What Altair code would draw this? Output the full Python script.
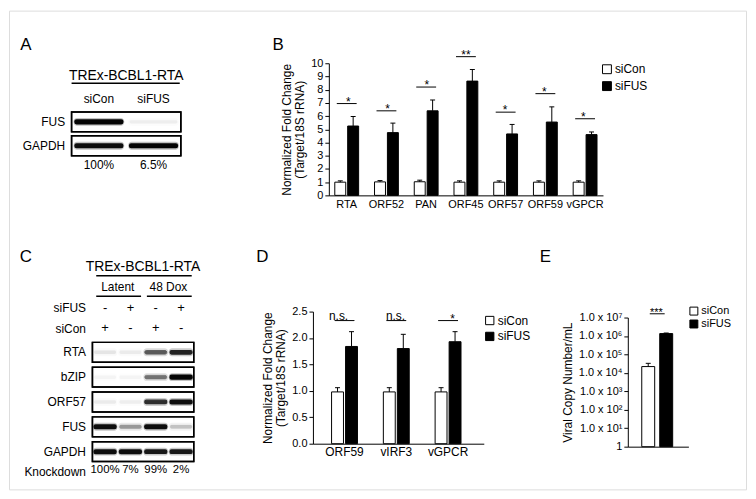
import altair as alt
import pandas as pd

FONT = "Liberation Sans"
W, H = 742, 482
O = 9  # page margin 8 + padding 1


def px(v):
    return v - O


treatments = ["siCon", "siFUS"]
fill_colors = ["white", "black"]

# ---------------- Panel B data ----------------
b_genes = ["RTA", "ORF52", "PAN", "ORF45", "ORF57", "ORF59", "vGPCR"]
b_sicon = [1.0, 1.02, 1.03, 1.0, 1.0, 1.0, 1.0]
b_sicon_err = [0.1, 0.1, 0.12, 0.1, 0.1, 0.1, 0.1]
b_sifus = [5.25, 4.75, 6.4, 8.65, 4.65, 5.55, 4.6]
b_sifus_err = [0.72, 0.72, 0.82, 0.88, 0.72, 1.15, 0.2]
b_sig_y = [6.95, 6.4, 8.2, 10.5, 6.3, 7.7, 5.8]
b_sig = ["*", "*", "*", "**", "*", "*", "*"]
b_ticks = [0, 1, 2, 3, 4, 5, 6, 7, 8, 9, 10]

# ---------------- Panel D data ----------------
d_genes = ["ORF59", "vIRF3", "vGPCR"]
d_sicon = [0.98, 0.98, 0.98]
d_sicon_err = [0.08, 0.08, 0.08]
d_sifus = [1.84, 1.80, 1.93]
d_sifus_err = [0.28, 0.27, 0.19]
d_sig_y = [2.33, 2.33, 2.33]
d_sig = ["n.s.", "n.s.", "*"]
d_ticks = [0, 0.5, 1, 1.5, 2, 2.5]

# ---------------- Panel E data ----------------
e_group = ["E"]
e_copies = [2.2e4, 1.35e6]
e_copies_err = [1.1e4, 1.0e5]
e_sig_y = [1.6e7]
e_sig = ["***"]
e_ticks = [1, 10, 100, 1e3, 1e4, 1e5, 1e6, 1e7]

# ---------------- Panel A blot ----------------
a_title = "TREx-BCBL1-RTA"
a_lanes = ["siCon", "siFUS"]
a_rows = ["FUS", "GAPDH"]
a_intensity = {"FUS": [1.0, 0.05], "GAPDH": [0.95, 1.0]}
a_pct = ["100%", "6.5%"]

# ---------------- Panel C blot ----------------
c_title = "TREx-BCBL1-RTA"
c_groups = ["Latent", "48 Dox"]
c_group_lanes = [[1, 2], [3, 4]]
c_sifus = ["-", "+", "-", "+"]
c_sicon = ["+", "-", "+", "-"]
c_rows = ["RTA", "bZIP", "ORF57", "FUS", "GAPDH"]
c_intensity = {
    "RTA": [0.08, 0.06, 0.6, 0.85],
    "bZIP": [0.03, 0.03, 0.5, 1.0],
    "ORF57": [0.06, 0.05, 0.8, 0.95],
    "FUS": [0.95, 0.35, 0.95, 0.2],
    "GAPDH": [0.95, 0.95, 0.9, 0.9],
}
c_knock_label = "Knockdown"
c_knock = ["100%", "7%", "99%", "2%"]


# ================= helpers =================
def y_axis(offset, title, values, label_expr=None, font=11):
    kw = dict(orient="left", offset=offset, title=title, values=values, tickSize=4,
              tickColor="black", domainColor="black", labelColor="black", titleColor="black",
              labelFontSize=font, titleFontSize=12, titleFontWeight="normal", labelFont=FONT,
              titleFont=FONT, grid=False, labelPadding=2, titlePadding=4, tickWidth=1,
              domainWidth=1, labelOverlap=False, labelFlush=False, titleLineHeight=13)
    if label_expr:
        kw["labelExpr"] = label_expr
    return alt.Axis(**kw)


def x_axis(offset, labels=True, font=11):
    return alt.Axis(orient="bottom", offset=offset, title=None, ticks=False, labels=labels,
                    labelAngle=0, labelFontSize=font, labelFont=FONT, labelColor="black",
                    domainColor="black", domainWidth=1, labelPadding=3, grid=False)


def legend(lx, ly, size=80, row_pad=3, font=12):
    return alt.Legend(orient="none", legendX=lx, legendY=ly, title=None, symbolType="square",
                      symbolSize=size, symbolStrokeColor="black", symbolStrokeWidth=1,
                      labelFontSize=font, labelFont=FONT, labelColor="black", rowPadding=row_pad,
                      padding=0, labelOffset=2)


def bar_panel(df, sig_df, cat, xscale, off_pad, yscale, yaxis, xaxis, leg, cap, sig_size,
              sig_font, base):
    def xo():
        return alt.XOffset("treatment:N",
                           scale=alt.Scale(domain=treatments, paddingInner=off_pad))

    def xx(axis=None):
        return alt.X(f"{cat}:N", scale=xscale, axis=axis)

    bars = alt.Chart(df).mark_bar(stroke="black", strokeWidth=1).encode(
        x=xx(xaxis),
        xOffset=xo(),
        y=alt.Y("mean:Q", scale=yscale, axis=yaxis),
        y2=alt.datum(base),
        fill=alt.Fill("treatment:N", scale=alt.Scale(domain=treatments, range=fill_colors),
                      legend=leg),
    )
    err = alt.Chart(df).mark_rule(color="black", strokeWidth=1).encode(
        x=xx(), xOffset=xo(),
        y=alt.Y("mean:Q", scale=yscale, axis=None),
        y2="upper:Q",
    )
    caps = alt.Chart(df).mark_tick(orient="horizontal", size=cap, thickness=1, color="black",
                                   opacity=1).encode(
        x=xx(), xOffset=xo(),
        y=alt.Y("upper:Q", scale=yscale, axis=None),
    )
    sig_line = alt.Chart(sig_df).mark_tick(orient="horizontal", size=sig_size, thickness=1,
                                           color="black", opacity=1).encode(
        x=xx(),
        y=alt.Y("y:Q", scale=yscale, axis=None),
    )
    star_txt = alt.Chart(sig_df).transform_filter(
        "indexof(datum.label, '*') >= 0"
    ).mark_text(baseline="alphabetic", dy=2, fontSize=sig_font, font=FONT,
                color="black").encode(
        x=xx(),
        y=alt.Y("y:Q", scale=yscale, axis=None),
        text="label:N",
    )
    ns_txt = alt.Chart(sig_df).transform_filter(
        "indexof(datum.label, '*') < 0"
    ).mark_text(baseline="alphabetic", dy=-1, fontSize=sig_font, font=FONT,
                color="black").encode(
        x=xx(),
        y=alt.Y("y:Q", scale=yscale, axis=None),
        text="label:N",
    )
    return [bars, err, caps, sig_line, star_txt, ns_txt]


def long_df(cat, cats, con, con_err, fus, fus_err):
    df = pd.DataFrame({
        cat: list(cats) * 2,
        "treatment": ["siCon"] * len(cats) + ["siFUS"] * len(cats),
        "mean": list(con) + list(fus),
        "err": list(con_err) + list(fus_err),
    })
    df["upper"] = df["mean"] + df["err"]
    return df


# ================= Panel B =================
b_df = long_df("gene", b_genes, b_sicon, b_sicon_err, b_sifus, b_sifus_err)
b_sig_df = pd.DataFrame({"gene": b_genes, "y": b_sig_y, "label": b_sig})
b_x = alt.Scale(domain=b_genes, range=[px(331), px(607)], paddingInner=0.4, paddingOuter=0.15)
b_y = alt.Scale(domain=[0, 10], range=[px(195), px(62)], nice=False, zero=True)
panel_b = bar_panel(
    b_df, b_sig_df, "gene", b_x, 0.15, b_y,
    y_axis(-px(331), ["Normalized Fold Change", "(Target/18S rRNA)"], b_ticks),
    x_axis(px(195) - H, font=11),
    legend(px(605), px(62)), 5, 20, 12, 0,
)

# ================= Panel D =================
d_df = long_df("gene", d_genes, d_sicon, d_sicon_err, d_sifus, d_sifus_err)
d_sig_df = pd.DataFrame({"gene": d_genes, "y": d_sig_y, "label": d_sig})
d_x = alt.Scale(domain=d_genes, range=[px(315), px(487)], paddingInner=0.5, paddingOuter=0.4,
                align=0.45)
d_y = alt.Scale(domain=[0, 2.5], range=[px(445), px(312)], nice=False, zero=True)
panel_d = bar_panel(
    d_df, d_sig_df, "gene", d_x, 0.15, d_y,
    y_axis(-px(315), ["Normalized Fold Change", "(Target/18S rRNA)"], d_ticks),
    x_axis(px(445) - H, font=12),
    legend(px(487), px(315), size=70, row_pad=2), 5, 20, 12, 0,
)

# ================= Panel E =================
e_df = long_df("grp", e_group, [e_copies[0]], [e_copies_err[0]], [e_copies[1]], [e_copies_err[1]])
e_sig_df = pd.DataFrame({"grp": e_group, "y": e_sig_y, "label": e_sig})
e_x = alt.Scale(domain=e_group, range=[px(632), px(693)], paddingInner=0, paddingOuter=0.48,
                align=0.47)
e_y = alt.Scale(type="log", domain=[1, 1e7], range=[px(448), px(318)], nice=False)
e_label_expr = ("datum.value < 2 ? '1' : '1.0 x 10' + "
                "['\u2070','\u00b9','\u00b2','\u00b3','\u2074','\u2075','\u2076','\u2077']"
                "[round(log(datum.value) / LN10)]")
panel_e = bar_panel(
    e_df, e_sig_df, "grp", e_x, 0.28, e_y,
    y_axis(-px(632), "Viral Copy Number/mL", e_ticks, label_expr=e_label_expr),
    x_axis(px(448) - H, labels=False),
    legend(px(693), px(306), size=64, row_pad=0, font=11), 5, 15, 11, 1,
)


# ================= blot helpers =================
def band_layers(df, xs, ys, size):
    halo = alt.Chart(df).transform_calculate(h="datum.intensity * 0.3").mark_tick(
        orient="horizontal", size=size + 3, thickness=8, color="#333", cornerRadius=3.5).encode(
        x=alt.X("lane:Q", scale=xs, axis=None),
        y=alt.Y("row:N", scale=ys, axis=None),
        opacity=alt.Opacity("h:Q", scale=None, legend=None),
    )
    core = alt.Chart(df).transform_calculate(sw="datum.intensity * 1.6").mark_tick(
        orient="horizontal", size=size, thickness=3.5, color="#050505", stroke="#050505",
        cornerRadius=1.5).encode(
        x=alt.X("lane:Q", scale=xs, axis=None),
        y=alt.Y("row:N", scale=ys, axis=None),
        opacity=alt.Opacity("intensity:Q", scale=None, legend=None),
        strokeWidth=alt.StrokeWidth("sw:Q", scale=None, legend=None),
    )
    return [halo, core]


def row_axis(offset, shown):
    expr = "indexof(" + str(list(shown)) + ", datum.value) >= 0 ? datum.value : ''"
    return alt.Axis(orient="left", offset=offset, title=None, ticks=False, domain=False,
                    labelExpr=expr, labelFontSize=12, labelFont=FONT, labelColor="black",
                    labelPadding=7, grid=False)


def text_layer(df, xs, ys, field, size=12, dy=0):
    return alt.Chart(df).mark_text(fontSize=size, font=FONT, color="black", dy=dy).encode(
        x=alt.X("lane:Q", scale=xs, axis=None),
        y=alt.Y("row:N", scale=ys, axis=None),
        text=f"{field}:N",
    )


def underline(df, xs, ys, pos):
    return alt.Chart(df).mark_rule(color="black", strokeWidth=1.5).encode(
        x=alt.X("lo:Q", scale=xs, axis=None), x2="hi:Q",
        y=alt.Y("row:N", scale=ys, axis=None, bandPosition=pos),
    )


def box_layers(df, xs, ys, axis):
    box = alt.Chart(df).mark_rect(fill="white", stroke="black", strokeWidth=1.5).encode(
        x=alt.X("lo:Q", scale=xs, axis=None), x2="hi:Q",
        y=alt.Y("row:N", scale=ys, axis=axis),
    )
    line = alt.Chart(df).mark_rect(fill="transparent", stroke="black",
                                   strokeWidth=1.5).encode(
        x=alt.X("lo:Q", scale=xs, axis=None), x2="hi:Q",
        y=alt.Y("row:N", scale=ys, axis=None),
    )
    return box, line


# ================= Panel A =================
na = len(a_lanes)
a_xs = alt.Scale(domain=[0.5, na + 0.5], range=[px(72), px(182)], nice=False, zero=False)
a_rows_all = ["title", "lane"] + a_rows + ["pct"]
a_ys = alt.Scale(domain=a_rows_all, range=[px(63), px(179)], paddingInner=1 / 6, paddingOuter=0)
a_band_df = pd.DataFrame([{"row": r, "lane": i + 1, "intensity": v}
                          for r in a_rows for i, v in enumerate(a_intensity[r])])
a_box_df = pd.DataFrame({"row": a_rows, "lo": 0.5, "hi": na + 0.5})
a_lane_df = pd.DataFrame({"lane": list(range(1, na + 1)), "row": "lane", "t": a_lanes})
a_pct_df = pd.DataFrame({"lane": list(range(1, na + 1)), "row": "pct", "t": a_pct})
a_title_df = pd.DataFrame({"lane": [(na + 1) / 2], "row": ["title"], "t": [a_title],
                           "lo": [0.5], "hi": [na + 0.48]})
a_box, a_box_line = box_layers(a_box_df, a_xs, a_ys, row_axis(-px(72), a_rows))
panel_a = [
    a_box, *band_layers(a_band_df, a_xs, a_ys, 48), a_box_line,
    text_layer(a_lane_df, a_xs, a_ys, "t"),
    text_layer(a_pct_df, a_xs, a_ys, "t", dy=-3),
    text_layer(a_title_df, a_xs, a_ys, "t", size=14),
    underline(a_title_df, a_xs, a_ys, 0.95),
]

# ================= Panel C =================
nc = len(c_sifus)
c_xs = alt.Scale(domain=[0.5, nc + 0.5], range=[px(93), px(195)], nice=False, zero=False)
c_head_rows = ["title", "group", "siFUS", "siCon"]
c_ys_head = alt.Scale(domain=c_head_rows, range=[px(256.7), px(339.3)], paddingInner=0,
                      paddingOuter=0)
c_main_rows = c_rows + [c_knock_label]
c_ys_main = alt.Scale(domain=c_main_rows, range=[px(343), px(488)], paddingInner=0.2,
                      paddingOuter=0)

c_sign_df = pd.DataFrame(
    [{"lane": i + 1, "row": "siFUS", "t": s} for i, s in enumerate(c_sifus)]
    + [{"lane": i + 1, "row": "siCon", "t": s} for i, s in enumerate(c_sicon)])
c_title_df = pd.DataFrame({"lane": [(nc + 1) / 2], "row": ["title"], "t": [c_title],
                           "lo": [0.65], "hi": [nc + 0.42]})
c_group_df = pd.DataFrame({
    "lane": [sum(g) / len(g) for g in c_group_lanes],
    "row": "group",
    "t": c_groups,
    "lo": [g[0] - 0.35 for g in c_group_lanes],
    "hi": [g[-1] + 0.42 for g in c_group_lanes],
})
c_signs = alt.Chart(c_sign_df).mark_text(fontSize=13, font=FONT, color="black").encode(
    x=alt.X("lane:Q", scale=c_xs, axis=None),
    y=alt.Y("row:N", scale=c_ys_head, axis=row_axis(-px(93), ["siFUS", "siCon"])),
    text="t:N",
)
c_band_df = pd.DataFrame([{"row": r, "lane": i + 1, "intensity": v}
                          for r in c_rows for i, v in enumerate(c_intensity[r])])
c_box_df = pd.DataFrame({"row": c_rows, "lo": 0.5, "hi": nc + 0.5})
c_knock_df = pd.DataFrame({"lane": list(range(1, nc + 1)), "row": c_knock_label, "t": c_knock})
c_main_axis = alt.Axis(
    orient="left", offset=-px(93), title=None, ticks=False, domain=False, labelFontSize=12,
    labelFont=FONT, labelColor="black", labelPadding=7, grid=False,
    labelOffset={"condition": {"test": f"datum.value === '{c_knock_label}'", "value": -4},
                 "value": 0},
)
c_box, c_box_line = box_layers(c_box_df, c_xs, c_ys_main, c_main_axis)
panel_c = [
    c_signs,
    text_layer(c_title_df, c_xs, c_ys_head, "t", size=14),
    underline(c_title_df, c_xs, c_ys_head, 0.93),
    text_layer(c_group_df, c_xs, c_ys_head, "t"),
    underline(c_group_df, c_xs, c_ys_head, 0.93),
    c_box, *band_layers(c_band_df, c_xs, c_ys_main, 22), c_box_line,
    text_layer(c_knock_df, c_xs, c_ys_main, "t", size=11.5, dy=-4),
]

# ================= panel letters =================
letters = []
for letter, (lx, ly) in zip(["A", "B", "C", "D", "E"],
                            [(26, 44), (280, 44), (26, 257), (264, 257), (549, 257)]):
    letters.append(
        alt.Chart(pd.DataFrame({"t": [letter]})).mark_text(
            fontSize=17, font=FONT, color="black", align="center", baseline="middle").encode(
            x=alt.value(px(lx)), y=alt.value(px(ly)), text="t:N"))

chart = alt.layer(
    *letters, *panel_a, *panel_b, *panel_c, *panel_d, *panel_e
).resolve_scale(
    x="independent", y="independent", xOffset="independent", fill="independent"
).resolve_axis(
    x="independent", y="independent"
).resolve_legend(
    fill="independent"
).properties(
    width=W, height=H,
    autosize=alt.AutoSizeParams(type="none"),
    padding={"left": 1, "top": 1, "right": 2, "bottom": 2},
).configure_view(
    stroke="black", strokeWidth=1.5
).configure(
    font=FONT
)

chart.save("out.html", embed_options={"renderer": "svg", "actions": False})
